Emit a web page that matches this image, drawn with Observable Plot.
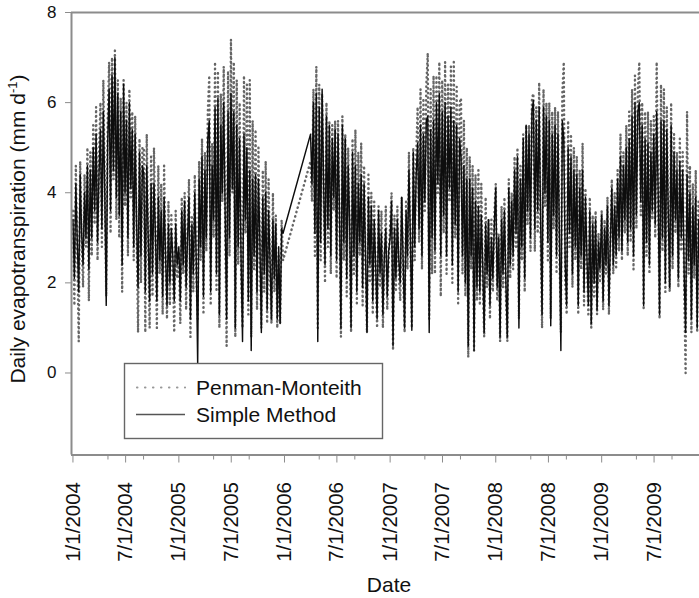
<!DOCTYPE html>
<html><head><meta charset="utf-8">
<script src="https://cdn.jsdelivr.net/npm/d3@7"></script>
<script src="https://cdn.jsdelivr.net/npm/@observablehq/plot@0.6"></script>
<style>
html,body{margin:0;padding:0;background:#fff;overflow:hidden;}
#chart{position:relative;width:699px;height:598px;}
</style></head><body><div id="chart"></div>
<script>
// ---- data (mm/day, one reading every 5 days) ----
const seriesNames = ["Penman-Monteith", "Simple Method"];
const yearStarts = ["2004-01-01", "2005-01-01", "2006-04-01", "2007-01-01", "2008-01-01", "2009-01-01"];
const stepDays = 5;

const sm2004 = [3.4,2.1,4.2,2.9,1.8,4.4,3.1, 2.4,4.0,3.0,4.6,2.3, 4.5,3.0,5.0,3.6,5.3,2.9,4.4, 5.4,3.2,5.8,4.0,1.5,5.1, 6.3,3.6,6.6,4.5,7.0,3.9, 6.2,3.5,5.8,2.4,6.4,4.0, 5.6,3.0,6.0,4.1,5.4,2.8, 5.3,3.3,1.9,4.9,2.6,4.6, 4.4,1.8,4.6,3.0,1.6,4.2, 2.2,4.2,3.1,1.6,3.9,2.5, 3.6,1.7,3.9,2.6,1.5,3.3, 2.0,3.2,2.6,1.6,3.3,2.4];
const pm2004 = [3.6,1.5,4.6,2.7,0.7,4.7,3.0, 1.9,4.4,2.8,5.0,1.6, 4.9,2.6,5.5,3.3,5.9,2.5,4.8, 6.0,2.8,6.5,4.2,1.7,5.6, 6.9,3.1,7.0,4.3,7.2,3.4, 6.5,3.0,6.1,1.8,6.5,3.7, 6.0,2.6,6.3,3.9,5.8,2.5, 5.7,3.1,0.9,5.2,2.0,5.0, 5.0,0.9,5.3,2.8,1.0,4.8, 1.7,5.0,3.0,1.0,4.6,2.2, 4.2,1.3,4.6,2.5,1.2,3.8, 1.5,3.5,2.4,0.9,3.6,2.1];

const sm2005 = [2.8,1.6,3.6,2.4,3.8,1.9,3.0, 3.9,1.2,3.3,2.2,4.0, 2.5,0.2,4.3,2.8,4.8,1.7,4.5, 3.0,5.2,5.6,1.8,4.6,3.4, 5.9,2.2,6.1,1.3,5.5,4.0, 6.0,3.5,1.2,5.8,3.0,6.2, 4.1,5.8,1.0,5.5,2.8,5.2, 2.5,0.7,5.3,3.4,5.0,1.6, 4.5,0.5,4.3,2.6,4.4,1.8, 4.3,2.9,0.9,3.9,2.2,4.0, 1.4,3.6,2.5,1.2,3.4,2.1, 3.3,1.2,2.8,1.1,3.2,3.1];
const pm2005 = [2.7,1.1,3.9,2.2,4.0,1.4,3.2, 4.3,0.8,3.5,1.8,4.4, 2.2,1.2,4.7,2.5,5.2,1.3,4.9, 2.7,5.8,6.6,1.5,5.1,3.0, 6.9,1.8,6.7,1.0,6.2,3.8, 6.8,3.2,0.6,6.7,2.6,7.4, 4.0,6.9,0.8,6.5,2.4,6.0, 2.2,1.0,6.6,3.1,6.4,1.3, 6.5,0.8,5.6,2.3,5.4,1.4, 5.0,2.7,1.0,4.5,1.8,4.7, 1.1,4.3,2.3,1.1,4.0,1.8, 3.5,1.0,2.6,1.1,3.4,2.5];

const sm2006 = [5.3,4.2,6.0,3.1,6.2,0.7, 5.9,2.9,6.3,4.3,2.4,5.7, 3.2,5.5,2.6,5.2,3.9,5.4, 2.5,5.3,3.6,1.0,5.5,2.9, 5.2,2.1,4.6,3.4,1.0,4.9, 2.6,4.6,1.8,4.2,2.9,4.4, 1.9,4.2,2.6,0.9,3.9,2.4, 3.7,1.6,3.4,2.4,1.2,3.6, 2.2,3.1,1.3,2.6,3.2,1.7,2.7];
const pm2006 = [4.7,3.8,6.3,2.6,6.8,1.0, 6.4,2.5,6.2,4.1,2.0,6.0, 2.8,5.6,2.2,5.5,3.6,5.6, 2.1,5.6,3.3,0.8,5.7,2.5, 5.3,1.7,5.0,3.1,0.9,5.2, 2.2,5.4,1.5,4.9,2.6,5.1, 1.5,4.6,2.4,0.9,4.4,2.0, 4.0,1.3,3.8,2.2,1.0,3.7, 1.9,3.6,1.0,2.4,3.7,1.4,2.5];

const sm2007 = [3.0,3.8,0.6,3.2,2.1,3.4,2.5, 2.0,3.9,2.5,1.0,3.6, 2.6,4.5,3.0,0.95,4.9,2.8,4.4, 5.1,3.2,5.5,2.6,5.3,3.8, 5.6,5.7,0.9,5.4,3.0,5.6, 2.7,6.0,4.2,6.2,2.6,5.8, 3.5,6.0,2.6,5.7,4.1,5.9, 2.4,5.6,3.3,5.5,1.8,5.2, 4.8,2.6,4.6,2.0,4.3,0.6, 4.3,2.6,4.1,0.5,3.8,1.9, 3.7,1.8,3.5,2.4,0.9,3.3, 2.2,3.4,1.5,3.0,2.1,3.3];
const pm2007 = [3.3,4.0,0.5,3.5,1.8,3.7,2.2, 1.6,3.9,2.2,0.9,3.8, 2.3,4.9,2.7,1.0,5.0,2.5,4.8, 5.9,2.9,6.3,2.3,6.1,3.6, 6.4,7.1,1.2,6.3,2.2,6.6, 2.2,6.6,4.0,6.9,1.7,6.5, 3.1,6.9,2.2,6.4,3.8,6.8, 2.0,6.9,3.0,6.35,1.5,6.0, 6.1,2.2,5.6,1.7,5.0,0.35, 4.8,2.3,4.6,0.5,4.4,1.6, 4.5,1.5,4.2,2.1,0.8,3.9, 1.9,3.4,1.2,3.4,1.8,3.5];

const sm2008 = [4.1,1.9,3.0,0.8,3.4,2.2,3.6, 2.0,0.8,4.1,2.4,3.8, 2.6,4.5,3.1,4.8,1.0,4.3,2.8, 5.2,2.1,5.5,3.6,5.3,3.0, 5.8,6.05,3.2,5.6,3.6,5.9, 3.4,1.3,5.9,4.0,5.7,2.9, 5.6,1.05,5.3,3.5,5.5,2.6, 5.3,3.0,0.5,5.6,5.2,2.4, 1.5,5.0,3.1,4.8,2.2,4.5, 2.8,4.4,1.5,4.1,2.6,4.5, 1.8,3.9,2.6,1.5,3.6,1.1, 3.3,2.0,3.4,1.4,2.9,2.3];
const pm2008 = [4.2,1.6,3.1,0.7,3.7,1.9,3.9, 1.7,0.7,4.3,2.1,4.0, 2.3,4.8,2.8,5.0,1.2,4.6,2.5, 5.3,1.8,5.5,3.3,5.5,2.7, 6.1,6.2,2.7,5.9,3.1,6.45, 3.0,1.0,6.3,3.7,6.0,2.5, 6.0,1.2,5.8,3.2,5.9,2.2, 5.8,2.7,0.9,6.2,6.9,2.0, 1.3,5.6,2.8,5.3,1.9,5.0, 2.5,4.8,1.3,4.5,2.3,5.1, 1.5,4.1,2.4,1.3,3.9,1.0, 3.5,1.7,3.6,1.3,3.1,2.0];

const sm2009 = [3.5,1.6,3.2,2.4,3.7,1.5,2.9, 4.1,2.4,3.7,2.6,4.3, 3.0,4.8,2.7,4.6,3.4,5.0,2.9, 5.2,3.2,5.7,2.6,6.0,3.5, 5.8,6.0,3.8,5.5,1.5,5.2, 2.9,5.1,2.4,4.9,3.6,5.3, 3.3,5.8,4.1,1.3,5.6,3.0, 5.6,2.0,5.4,3.6,1.9,5.5, 2.6,4.9,3.4,4.5,2.1,4.7, 3.0,4.5,2.2,0.9,4.4,2.5, 4.0,1.2,3.7,2.4,3.9,1.0, 3.4,2.2];
const pm2009 = [3.6,1.4,3.4,2.2,3.9,1.3,3.0, 4.3,2.2,4.0,2.3,4.5, 2.7,5.3,2.5,4.9,3.1,5.5,2.6, 5.8,2.9,6.3,2.3,6.6,3.2, 6.3,6.9,3.5,6.0,1.4,5.8, 2.6,5.8,2.2,5.6,3.4,5.7, 3.0,6.9,3.9,1.2,6.4,2.7, 6.3,1.8,5.9,3.3,1.8,6.0, 2.3,5.3,3.1,4.9,1.9,5.2, 2.7,4.9,1.9,0.0,5.8,2.2, 4.6,0.9,4.2,2.1,4.5,0.9, 3.8,1.9];

const yTicks = [0, 2, 4, 6, 8];
const yDomain = [-1.82, 8];
const xDomain = ["2003-12-27", "2009-12-05"];
const majorTicks = ["2004-01-01","2004-07-01","2005-01-01","2005-07-01","2006-01-01","2006-07-01","2007-01-01","2007-07-01","2008-01-01","2008-07-01","2009-01-01","2009-07-01"];
const minorTicks = ["2004-05-01","2004-09-01","2005-05-01","2005-09-01","2006-05-01","2006-09-01","2007-05-01","2007-09-01","2008-05-01","2008-09-01","2009-05-01","2009-09-01"];
const yTitle = ["Daily evapotranspiration (mm d", "-1", ")"];
const xTitle = "Date";

// ---- build tables ----
const utc = s => new Date(s + "T00:00:00Z");
function build(start, vals, name) {
  const t0 = +utc(start);
  return vals.map((v, i) => ({date: new Date(t0 + i * stepDays * 864e5), value: v, series: name}));
}
const pmYears = [pm2004, pm2005, pm2006, pm2007, pm2008, pm2009];
const smYears = [sm2004, sm2005, sm2006, sm2007, sm2008, sm2009];
const pmData = pmYears.flatMap((a, k) => build(yearStarts[k], a, seriesNames[0]));
const smData = smYears.flatMap((a, k) => build(yearStarts[k], a, seriesNames[1]));

const fmt = d => `${d.getUTCMonth() + 1}/${d.getUTCDate()}/${d.getUTCFullYear()}`;
const FONT = "'Liberation Sans', Arial, Helvetica, sans-serif";
const AX = "#8c8c8c";

const chart = Plot.plot({
  width: 699, height: 598,
  marginLeft: 71, marginRight: 0, marginTop: 12, marginBottom: 143.5,
  style: {fontFamily: FONT, background: "white", overflow: "visible", color: "#111"},
  x: {type: "utc", domain: xDomain.map(utc)},
  y: {domain: yDomain},
  marks: [
    Plot.line(pmData, {x: "date", y: "value", stroke: "#666", strokeWidth: 2.4, strokeDasharray: "0.4,4.2", strokeLinecap: "round", clip: true}),
    Plot.line(smData, {x: "date", y: "value", stroke: "#0d0d0d", strokeWidth: 1.45, clip: true}),
    Plot.ruleY([yDomain[1]], {stroke: AX, strokeWidth: 2}),
    Plot.ruleY([yDomain[0]], {stroke: AX, strokeWidth: 2}),
    Plot.ruleX([utc(xDomain[0])], {stroke: AX, strokeWidth: 2}),
    Plot.axisY({ticks: yTicks, tickSize: 6, tickPadding: 9, fontSize: 17, stroke: AX, fill: "#111", label: null}),
    Plot.axisX({ticks: majorTicks.map(utc), tickFormat: fmt, tickRotate: -90, tickSize: 8, tickPadding: 19, fontSize: 20.5, stroke: AX, fill: "#111", label: null}),
    Plot.axisX({ticks: minorTicks.map(utc), tickFormat: () => "", tickSize: 5, stroke: AX, label: null})
  ]
});
document.getElementById("chart").appendChild(chart);

const svg = d3.select(chart);
// y-axis title
const yt = svg.append("text")
  .attr("transform", "translate(25,229) rotate(-90)")
  .attr("text-anchor", "middle").attr("font-size", 21).attr("font-family", FONT).attr("fill", "#111");
yt.append("tspan").text(yTitle[0]);
yt.append("tspan").attr("dy", -8).attr("font-size", 13).text(yTitle[1]);
yt.append("tspan").attr("dy", 8).text(yTitle[2]);
// x-axis title
svg.append("text").attr("x", 389).attr("y", 592).attr("text-anchor", "middle")
  .attr("font-size", 21).attr("font-family", FONT).attr("fill", "#111").text(xTitle);
// legend
const lg = svg.append("g").attr("font-family", FONT).attr("font-size", 21).attr("fill", "#111").attr("text-anchor", "start");
lg.append("rect").attr("x", 124.5).attr("y", 363.5).attr("width", 258).attr("height", 75)
  .attr("fill", "white").attr("stroke", "#666").attr("stroke-width", 1.4);
lg.append("line").attr("x1", 137).attr("x2", 185).attr("y1", 387.5).attr("y2", 387.5)
  .attr("stroke", "#999").attr("stroke-width", 2.2).attr("stroke-dasharray", "0.4,7.6").attr("stroke-linecap", "round");
lg.append("line").attr("x1", 136).attr("x2", 185).attr("y1", 414.5).attr("y2", 414.5)
  .attr("stroke", "#555").attr("stroke-width", 1.5);
lg.append("text").attr("x", 196).attr("y", 394.5).attr("text-anchor", "start").text(seriesNames[0]);
lg.append("text").attr("x", 196).attr("y", 421.5).attr("text-anchor", "start").text(seriesNames[1]);
</script>
</body></html>
